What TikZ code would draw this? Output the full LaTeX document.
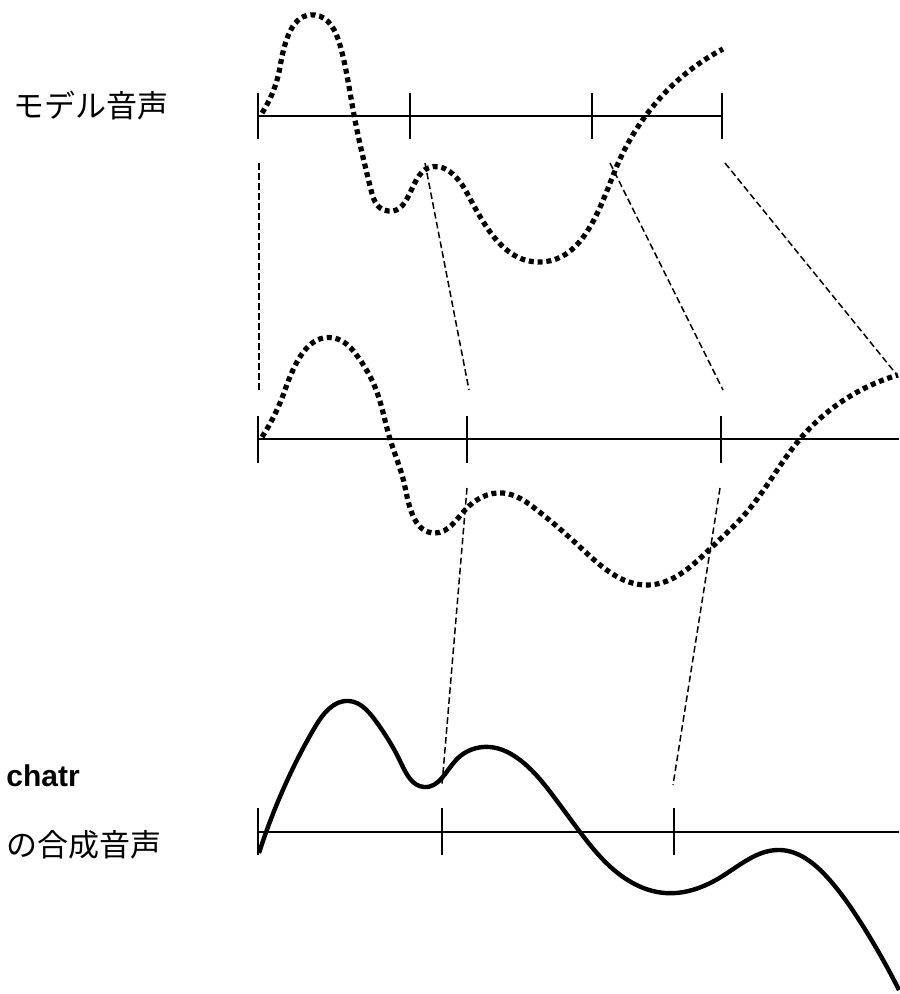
\documentclass[tikz,border=0pt]{standalone}
\usepackage{fontspec}
\newfontfamily\jpfont{Noto Sans CJK JP}
\newfontfamily\latfont{Liberation Sans}
\usetikzlibrary{positioning,hobby}

\begin{document}
\begin{tikzpicture}[x=0.5pt,y=-0.5pt,
    axis/.style={line width=1pt},
    tick/.style={line width=0.7pt},
    link/.style={line width=0.75pt, dash pattern=on 3.3pt off 1.7pt},
    model/.style={line width=2.6pt, dash pattern=on 2.5pt off 1.9pt, use Hobby shortcut},
    synth/.style={line width=2.2pt, line join=round, use Hobby shortcut},
    lbl/.style={font=\jpfont\fontsize{15.5}{18}\selectfont, inner sep=0pt, anchor=west},
]
\useasboundingbox (0,0) rectangle (899,994);

% labels
\node[lbl] (modelname) at (13,106) {モデル音声};
\node[lbl,font=\latfont\bfseries\fontsize{15}{18}\selectfont] (chatr) at (6,776) {chatr};
\node[lbl] (synthname) at (6,845) {の合成音声};

% time axes
\draw[axis] (258,116) -- (722,116);
\draw[axis] (258,439) -- (899,439);
\draw[axis] (258,832) -- (899,832);
\foreach \x in {258,410,592,722} \draw[tick] (\x,93) -- (\x,139);
\foreach \x in {258,467,721} \draw[tick] (\x,416) -- (\x,463);
\foreach \x in {258,442,674} \draw[tick] (\x,808) -- (\x,855);

% model speech, original timing
\draw[model] (262,113) .. (280,67) .. (315,15) .. (340,45) .. (354,115) .. (371,190)
    .. (384,210) .. (428,168) .. (467,193) .. (539,262) .. (614,173) .. (684,75) .. (723,49);

% model speech, warped timing
\draw[model] (262,437) .. (285,390) .. (334,338) .. (358,357) .. (375,387) .. (390,439)
    .. (405,487) .. (435,533) .. (465,510) .. (503,493) .. (537,510) .. (580,547)
    .. (648,585) .. (712,547) .. (746,513) .. (800,439) .. (861,390) .. (898,375);

% chatr output
\draw[synth] (259,853) .. (286,783) .. (315,727) .. (349,701) .. (375,720) .. (401,763)
    .. (424,787) .. (456,760) .. (490,747) .. (520,760) .. (554,797) .. (580,832)
    .. (614,870) .. (665,893) .. (721,877) .. (780,850) .. (827,877) .. (861,923) .. (899,990);

% alignment links
\coordinate (a1) at (259,163); \coordinate (b1) at (259,390);
\coordinate (a2) at (425,163); \coordinate (b2) at (469,390);
\coordinate (a3) at (610,163); \coordinate (b3) at (723,390);
\coordinate (a4) at (725,163); \coordinate (b4) at (897,375);
\coordinate (c2) at (467,488); \coordinate (d2) at (442,785);
\coordinate (c3) at (720,488); \coordinate (d3) at (673,785);

\draw[link] (a1) -- (b1);
\draw[link] (a2) -- (b2);
\draw[link] (a3) -- (b3);
\draw[link] (a4) -- (b4);
\draw[link] (c2) -- (d2);
\draw[link] (c3) -- (d3);

\end{tikzpicture}
\end{document}
